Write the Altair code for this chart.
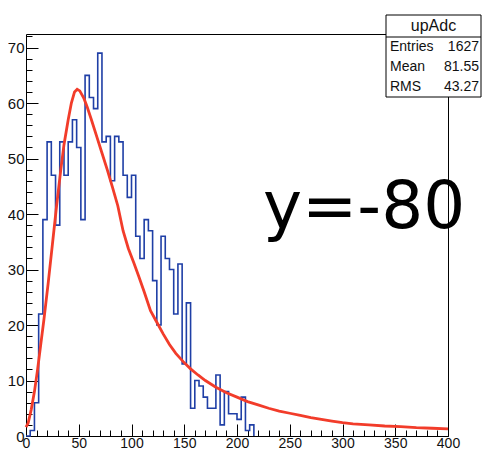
import altair as alt
import pandas as pd

# Histogram (upAdc), bin width 4, left bin edges
bin_left = list(range(0, 216, 4)) + [216]
bin_count = [0, 1, 6, 22, 39, 53, 47, 38, 53, 47, 53, 57, 52, 39, 65, 61, 59, 69,
             53, 54, 46, 54, 53, 47, 43, 47, 36, 32, 39, 37, 28, 20, 36, 32, 30, 22,
             31, 13, 24, 5, 10, 9, 7, 5, 5, 11, 2, 8, 4, 4, 3, 7, 1, 2, 0]

# Fitted curve
fit_x = [0, 2, 5, 8, 11, 14, 17, 21, 25, 29, 33, 36, 40, 43, 46, 48.5, 51, 55, 58, 62,
         67, 72, 77, 82, 87, 92, 97, 102, 107, 112, 118, 124, 130, 136, 142, 149, 156,
         163, 170, 180, 190, 200, 210, 220, 230, 240, 250, 260, 270, 280, 290, 300,
         310, 325, 340, 355, 370, 385, 400]
fit_y = [1.6, 2.3, 4.8, 8.0, 12, 16.5, 21, 27.5, 34.5, 41.5, 48, 52.5, 57, 60, 62, 62.5,
         62.2, 60.8, 59.3, 57, 54, 51, 48, 44.8, 41.5, 37, 33.8, 31.3, 28.7, 26, 22.6,
         20.5, 18.4, 16.5, 14.9, 13.4, 12.1, 11, 10, 8.8, 7.8, 7.0, 6.2, 5.6, 5.0, 4.5,
         4.1, 3.7, 3.3, 3.0, 2.7, 2.4, 2.2, 2.0, 1.8, 1.7, 1.5, 1.4, 1.3]

x_major = list(range(0, 401, 50))
x_minor = list(range(0, 401, 10))
y_major = list(range(0, 71, 10))
y_minor = list(range(0, 73, 2))

stat_title = "upAdc"
stat_names = ["Entries", "Mean", "RMS"]
stat_values = ["1627", "81.55", "43.27"]
annot = "y=-80"

W, H = 422, 402
FONT = "Liberation Sans"

hist_df = pd.DataFrame({"x": bin_left, "n": bin_count})
fit_df = pd.DataFrame({"x": fit_x, "y": fit_y})

xs = alt.Scale(domain=[0, 400], nice=False, zero=False)
ys = alt.Scale(domain=[0, 72.45], nice=False, zero=False)

def axis(orient, values, size, labels, pad=2, fs=15):
    kw = dict(orient=orient, values=values, tickSize=size, offset=-size,
              domain=False, grid=False, title=None, tickColor="black",
              tickWidth=1, labels=labels)
    if labels:
        kw.update(labelFont=FONT, labelFontSize=fs, labelColor="#111",
                  labelPadding=pad, labelFlush=False, labelOverlap=False)
    return alt.Axis(**kw)

hist = alt.Chart(hist_df).mark_line(interpolate="step-after", color="#1f3fa6",
                                     strokeWidth=1.6).encode(
    x=alt.X("x:Q", scale=xs, axis=axis("bottom", x_major, 12, True, 0, 14)),
    y=alt.Y("n:Q", scale=ys, axis=axis("left", y_major, 12, True, 2, 15)),
)

fit = alt.Chart(fit_df).mark_line(color="#f23c2a", strokeWidth=2.8).encode(
    x=alt.X("x:Q", scale=xs, axis=axis("bottom", x_minor, 6, False)),
    y=alt.Y("y:Q", scale=ys, axis=axis("left", y_minor, 6, False)),
)

one = pd.DataFrame({"k": [0]})

big = alt.Chart(one).mark_text(font="DejaVu Sans", fontSize=66, align="left",
                               baseline="alphabetic", color="black").encode(
    x=alt.value(237), y=alt.value(194), text=alt.value(annot))

BL, BR = 360, 455
box = alt.Chart(one).mark_rect(fill="white", stroke="black", strokeWidth=1).encode(
    x=alt.value(BL), x2=alt.value(BR), y=alt.value(-19), y2=alt.value(63))

sep = alt.Chart(one).mark_rule(color="black", strokeWidth=1).encode(
    x=alt.value(BL), x2=alt.value(BR), y=alt.value(3))

title_txt = alt.Chart(one).mark_text(font=FONT, fontSize=16, align="center",
                                     baseline="middle", color="#111").encode(
    x=alt.value((BL + BR) / 2), y=alt.value(-8), text=alt.value(stat_title))

stat_layers = []
for i, (nm, vv) in enumerate(zip(stat_names, stat_values)):
    yy = 13 + 20 * i
    stat_layers.append(alt.Chart(one).mark_text(
        font=FONT, fontSize=14, align="left", baseline="middle", color="#111").encode(
        x=alt.value(BL + 4), y=alt.value(yy), text=alt.value(nm)))
    stat_layers.append(alt.Chart(one).mark_text(
        font=FONT, fontSize=14, align="right", baseline="middle", color="#111").encode(
        x=alt.value(BR - 2), y=alt.value(yy), text=alt.value(vv)))

chart = alt.layer(hist, fit, big, box, sep, title_txt, *stat_layers).resolve_axis(
    x="independent", y="independent"
).resolve_scale(y="shared", x="shared").properties(
    width=W, height=H,
    autosize=alt.AutoSizeParams(type="none"),
    padding={"left": 18, "top": 26, "right": 34, "bottom": 14},
    background="white",
).configure_view(stroke="black", strokeWidth=1)

chart.save("out.html", embed_options={"renderer": "svg", "actions": False})
